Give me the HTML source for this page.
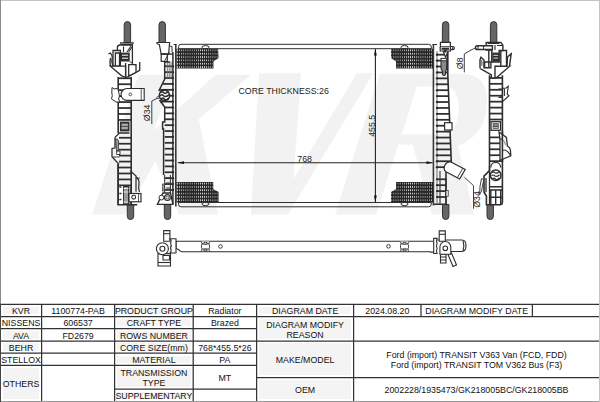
<!DOCTYPE html>
<html><head><meta charset="utf-8">
<style>
html,body{margin:0;padding:0;background:#fff;}
body{width:600px;height:402px;position:relative;overflow:hidden;font-family:"Liberation Sans",sans-serif;}
svg{position:absolute;left:0;top:0;}
.c{position:absolute;font-size:8.8px;color:#111;padding-top:1.6px;box-sizing:border-box;text-align:center;line-height:10px;white-space:nowrap;display:flex;align-items:center;justify-content:center;}
.gb{position:absolute;background:#f4f4f4;}
</style></head><body>
<svg width="600" height="402" viewBox="0 0 600 402">
<defs>
<pattern id="fin" x="176.5" y="48.7" width="2.08" height="3.33" patternUnits="userSpaceOnUse">
<rect width="2.08" height="3.33" fill="#222"/>
<rect x="0.7" y="0.7" width="0.75" height="2.0" rx="0.35" fill="#e6e6e6"/>
</pattern>
</defs>
<g fill="#f2f2f2">
<path d="M138.4 74.8 H175 L121.5 214.5 H92 Z"/>
<path d="M215.7 74.8 H251 L198.7 119 L150 152 L146.4 137.2 Z"/>
<path d="M150 150 L198.7 119 L218 214.5 H179 Z"/>
<path d="M146.4 137.2 L172 133 L158 156 L139.5 190 L125 214.5 H121.5 Z"/>
<path d="M259 73.3 H301 L293.5 179 L356.7 73.3 H373.3 L288 214.5 H251 Z"/>
<path d="M380 73.7 H460 Q488 73.7 487 102 Q486 135 458 146 L474 214.5 H431.8 L412.8 144.5 H398.3 L376 214.5 H335 Z M417 86.4 L401.5 134.6 H440 Q458 132 459 110 Q459 86.4 445 86.4 Z" fill-rule="evenodd"/>
</g>
<rect x="0.5" y="0.5" width="599" height="401" fill="none" stroke="#c4c4c4" stroke-width="1"/>
<line x1="0.5" y1="0" x2="0.5" y2="402" stroke="#8a8a8a" stroke-width="1"/>
<g stroke="#2e2e2e" fill="none" stroke-width="1">
<path d="M178.6 48.7 V46.5 Q178.6 44.3 181 44.3 H428.5 Q431.3 44.3 431.3 47 V48.7"/><ellipse cx="205.5" cy="47.2" rx="3.6" ry="1.6"/><ellipse cx="404.5" cy="47.2" rx="3.6" ry="1.6"/>
<path d="M178.6 202.5 V204.6 Q178.6 206.8 181 206.8 H428.5 Q431.3 206.8 431.3 204.2 V202.5"/><ellipse cx="205.5" cy="204" rx="3.6" ry="1.6"/><ellipse cx="404.5" cy="204" rx="3.6" ry="1.6"/>
<line x1="178" y1="48.7" x2="431.5" y2="48.7"/>
<line x1="178" y1="202.5" x2="431.5" y2="202.5"/>
</g>
<path d="M175.8 44.5 V206.5" fill="none" stroke="#3a3a3a" stroke-width="1.6"/><path d="M173.5 44.5 H176.5" stroke="#2e2e2e" stroke-width="1"/>
<path d="M433.4 44.5 V205.5" fill="none" stroke="#3a3a3a" stroke-width="1.6"/><path d="M432.5 44.5 H437" stroke="#2e2e2e" stroke-width="1"/>
<path d="M176.5 48.7 H218 L218.6 58 L213.5 61.5 V68.6 H176.5 Z" fill="url(#fin)"/>
<path d="M433 48.7 H391 V58 L396 61.5 V68.6 H433 Z" fill="url(#fin)"/>
<path d="M176.5 182 H213.3 V189 L218.6 192 V202.5 H176.5 Z" fill="url(#fin)"/>
<path d="M433 182 H396 V189 L391 192 V202.5 H433 Z" fill="url(#fin)"/>
<g stroke="#222" stroke-width="1.1">
<line x1="178" y1="162.7" x2="432.5" y2="162.7"/>
<line x1="375.4" y1="49" x2="375.4" y2="202"/>
</g>
<g fill="#111">
<path d="M177.5 162.7 L184 161.3 V164.1 Z"/>
<path d="M433 162.7 L426.5 161.3 V164.1 Z"/>
<path d="M375.4 48.8 L374 55.5 H376.8 Z"/>
<path d="M375.4 202.3 L374 195.6 H376.8 Z"/>
</g>
<g font-family="Liberation Sans" font-size="8.8" fill="#222">
<text x="238.5" y="94.3">CORE THICKNESS:26</text>
<text x="297.3" y="161.5">768</text>
<text transform="translate(374.6 136.8) rotate(-90)">455.5</text>
<text transform="translate(150.2 121.2) rotate(-90)" font-size="8.8">Ø34</text>
<text transform="translate(463.2 69.2) rotate(-90)" font-size="8.8">Ø8</text>
<text transform="translate(480 207.8) rotate(-90)" font-size="8.8">Ø34</text>
</g>
<path d="M124.20 42.5 V24.8 A3.2 3.2 0 0 1 130.60 24.8 V42.5 Z" fill="#666" stroke="#333" stroke-width="1"/>
<path d="M159.00 42.5 V24.8 A3.2 3.2 0 0 1 165.40 24.8 V42.5 Z" fill="#666" stroke="#333" stroke-width="1"/>
<path d="M442.40 42.5 V24.8 A3.2 3.2 0 0 1 448.80 24.8 V42.5 Z" fill="#666" stroke="#333" stroke-width="1"/>
<path d="M490.40 42.5 V24.8 A3.2 3.2 0 0 1 496.80 24.8 V42.5 Z" fill="#666" stroke="#333" stroke-width="1"/>
<path d="M127.30 204.5 V216.3 A3.2 3.2 0 0 0 133.70 216.3 V204.5 Z" fill="#666" stroke="#333" stroke-width="1"/>
<path d="M164.30 204.5 V216.3 A3.2 3.2 0 0 0 170.70 216.3 V204.5 Z" fill="#666" stroke="#333" stroke-width="1"/>
<path d="M442.50 204.5 V216.3 A3.2 3.2 0 0 0 448.90 216.3 V204.5 Z" fill="#666" stroke="#333" stroke-width="1"/>
<path d="M487.00 204.5 V216.3 A3.2 3.2 0 0 0 493.40 216.3 V204.5 Z" fill="#666" stroke="#333" stroke-width="1"/>
<g stroke="#2e2e2e" stroke-width="1.6" fill="none">
<path d="M118.2 77 V133 M118.2 164 V204.8 H137.3"/>
<line x1="131.2" y1="77" x2="131.2" y2="204.8"/>
</g>
<rect x="118.20" y="77.40" width="13.00" height="1.75" fill="#2e2e2e"/>
<rect x="118.20" y="83.35" width="13.00" height="1.75" fill="#2e2e2e"/>
<rect x="118.20" y="89.30" width="13.00" height="1.75" fill="#2e2e2e"/>
<rect x="118.20" y="95.25" width="13.00" height="1.75" fill="#2e2e2e"/>
<rect x="118.20" y="101.20" width="13.00" height="1.75" fill="#2e2e2e"/>
<rect x="118.20" y="107.15" width="13.00" height="1.75" fill="#2e2e2e"/>
<rect x="118.20" y="113.10" width="13.00" height="1.75" fill="#2e2e2e"/>
<rect x="118.20" y="119.05" width="13.00" height="1.75" fill="#2e2e2e"/>
<rect x="118.20" y="136.90" width="13.00" height="1.75" fill="#2e2e2e"/>
<rect x="118.20" y="142.85" width="13.00" height="1.75" fill="#2e2e2e"/>
<rect x="118.20" y="148.80" width="13.00" height="1.75" fill="#2e2e2e"/>
<rect x="118.20" y="154.75" width="13.00" height="1.75" fill="#2e2e2e"/>
<rect x="118.20" y="160.70" width="13.00" height="1.75" fill="#2e2e2e"/>
<rect x="118.20" y="166.65" width="13.00" height="1.75" fill="#2e2e2e"/>
<rect x="118.20" y="172.60" width="13.00" height="1.75" fill="#2e2e2e"/>
<rect x="118.20" y="178.55" width="13.00" height="1.75" fill="#2e2e2e"/>
<rect x="118.20" y="184.50" width="13.00" height="1.75" fill="#2e2e2e"/>
<rect x="118.20" y="190.45" width="13.00" height="1.75" fill="#2e2e2e"/>
<rect x="118.20" y="196.40" width="13.00" height="1.75" fill="#2e2e2e"/>
<rect x="119.9" y="121.6" width="9.6" height="9.8" fill="#2e2e2e"/>
<rect x="121.2" y="122.9" width="7" height="7.2" fill="#555"/><rect x="121.6" y="124.3" width="6.2" height="1.2" fill="#e0e0e0"/><rect x="121.6" y="127.4" width="6.2" height="1.2" fill="#e0e0e0"/>
<g stroke="#2e2e2e" stroke-width="1.3" fill="#fff">
<path d="M117.4 62 V47.5 Q117.4 45 120 45 H132.4 V63"/>
<path d="M113 50.5 H120.4 V66.2 H113 Z"/>
<path d="M115.4 53 H119.5 V66.2 H115.4 Z"/>
<path d="M110.4 66.2 H125.6 V77.5 L121.4 75.6 Z"/>
<path d="M125.6 63 V77.6 M139.7 62 V70.4 L128.2 76.6 L125.6 77.6"/>
<path d="M128.7 64.6 H136 V72.4 L128.7 76 Z"/>
<path d="M108.4 54 L110.5 53 Q112.5 56 112.3 58 Q111.2 61 113 66.2"/>
<path d="M110.4 66.2 Q109.5 62 110.5 58"/>
</g>
<path d="M119.8 42.3 H134 L132.9 45 H120.9 Z" fill="#2e2e2e"/><path d="M121 43.5 H132.5" stroke="#bbb" stroke-width="0.6"/>
<rect x="120.4" y="52.6" width="9.3" height="8.9" fill="#2e2e2e"/><rect x="122" y="54.6" width="6.1" height="1.3" fill="#d0d0d0"/><rect x="122" y="57.6" width="6.1" height="1.3" fill="#d0d0d0"/>
<path d="M123.5 46.5 V52 M127 52 L131 46 M128.7 52 L132 47" stroke="#2e2e2e" stroke-width="1.1"/>
<path d="M129.7 61.5 L134.4 65.1" stroke="#2e2e2e" stroke-width="1"/>
<path d="M127 88.5 H144.2 V100.4 H127 A5.95 5.95 0 0 1 127 88.5 Z" fill="#fff" stroke="#2e2e2e" stroke-width="1.1"/>
<line x1="141.2" y1="88.5" x2="141.2" y2="100.4" stroke="#2e2e2e" stroke-width="0.8"/>
<circle cx="130.3" cy="94.4" r="1.4" fill="none" stroke="#2e2e2e" stroke-width="0.8"/>
<path d="M112 87.5 L114 89 Q116 88 118 89 L119.5 96 Q117.5 99 120 102 L116 102 L111.5 99 Q113 95 111.8 93 Z" fill="#fff" stroke="#2e2e2e" stroke-width="1"/>
<rect x="116" y="134" width="3" height="30" fill="#fff"/>
<path d="M129.4 133 H119.4 L115 137.4 V147.8 L112 148.6 V156.8 L119 164.3" fill="none" stroke="#2e2e2e" stroke-width="1.3"/>
<path d="M115.5 139 Q117.8 138 118.5 141 V150.8 H116.5 Z" fill="#9a9a9a" stroke="#2e2e2e" stroke-width="0.8"/>
<path d="M116.6 151 H120 V154.5 H116.6 Z M113 157 H119.5" fill="none" stroke="#2e2e2e" stroke-width="0.9"/>
<path d="M118.2 164 V205" stroke="#2e2e2e" stroke-width="1.6"/>
<rect x="119" y="186" width="11.5" height="18" fill="#fff"/>
<path d="M130.2 170.8 L136 176 V191.7 M136.5 177 Q139.5 180 139 184 Q138 188 139.5 192" stroke="#2e2e2e" stroke-width="1.2" fill="none"/>
<path d="M137.5 178.5 L139.8 178" stroke="#2e2e2e" stroke-width="1"/>
<rect x="123.5" y="186.5" width="5" height="17.5" fill="#9a9a9a" stroke="#2e2e2e" stroke-width="1"/>
<path d="M123.5 188.5 H128.5 M123.5 192 H128.5 M123.5 202 H128.5" stroke="#eee" stroke-width="0.9"/>
<path d="M119.3 187 H121.5 M119.3 193.5 H121.5 M119.3 199.5 H121.5" stroke="#2e2e2e" stroke-width="1.6"/>
<path d="M130.2 186 V204" stroke="#2e2e2e" stroke-width="1.2"/>
<rect x="129" y="193.5" width="12" height="8.3" fill="#fff" stroke="#2e2e2e" stroke-width="1.2"/>
<circle cx="133.7" cy="197.2" r="1.9" fill="none" stroke="#2e2e2e" stroke-width="1.1"/>
<path d="M138.5 194 V201.5" stroke="#2e2e2e" stroke-width="0.8"/>
<g stroke="#2e2e2e" stroke-width="1.5" fill="none">
<path d="M164.7 61.4 V79 L158.8 91 M159.5 100 L164.7 107 V122 H162.6 V129 H163.6 V175"/>
<line x1="172.9" y1="52" x2="172.9" y2="204"/>
</g>
<rect x="164.70" y="65.38" width="8.20" height="1.75" fill="#2e2e2e"/>
<circle cx="172.9" cy="66.25" r="1.2" fill="#2e2e2e"/>
<rect x="164.70" y="71.27" width="8.20" height="1.75" fill="#2e2e2e"/>
<circle cx="172.9" cy="72.14" r="1.2" fill="#2e2e2e"/>
<rect x="164.70" y="77.16" width="8.20" height="1.75" fill="#2e2e2e"/>
<circle cx="172.9" cy="78.03" r="1.2" fill="#2e2e2e"/>
<rect x="162.71" y="83.05" width="10.19" height="1.75" fill="#2e2e2e"/>
<circle cx="172.9" cy="83.92" r="1.2" fill="#2e2e2e"/>
<rect x="159.81" y="88.94" width="13.09" height="1.75" fill="#2e2e2e"/>
<circle cx="172.9" cy="89.81" r="1.2" fill="#2e2e2e"/>
<rect x="158.80" y="94.83" width="14.10" height="1.75" fill="#2e2e2e"/>
<circle cx="172.9" cy="95.70" r="1.2" fill="#2e2e2e"/>
<rect x="160.03" y="100.72" width="12.87" height="1.75" fill="#2e2e2e"/>
<circle cx="172.9" cy="101.59" r="1.2" fill="#2e2e2e"/>
<rect x="164.41" y="106.61" width="8.49" height="1.75" fill="#2e2e2e"/>
<circle cx="172.9" cy="107.48" r="1.2" fill="#2e2e2e"/>
<rect x="164.70" y="112.50" width="8.20" height="1.75" fill="#2e2e2e"/>
<circle cx="172.9" cy="113.37" r="1.2" fill="#2e2e2e"/>
<rect x="164.70" y="118.39" width="8.20" height="1.75" fill="#2e2e2e"/>
<circle cx="172.9" cy="119.26" r="1.2" fill="#2e2e2e"/>
<rect x="164.70" y="124.28" width="8.20" height="1.75" fill="#2e2e2e"/>
<circle cx="172.9" cy="125.15" r="1.2" fill="#2e2e2e"/>
<rect x="164.70" y="130.17" width="8.20" height="1.75" fill="#2e2e2e"/>
<circle cx="172.9" cy="131.04" r="1.2" fill="#2e2e2e"/>
<rect x="164.70" y="136.06" width="8.20" height="1.75" fill="#2e2e2e"/>
<circle cx="172.9" cy="136.93" r="1.2" fill="#2e2e2e"/>
<rect x="164.70" y="141.95" width="8.20" height="1.75" fill="#2e2e2e"/>
<circle cx="172.9" cy="142.82" r="1.2" fill="#2e2e2e"/>
<rect x="164.70" y="147.84" width="8.20" height="1.75" fill="#2e2e2e"/>
<circle cx="172.9" cy="148.71" r="1.2" fill="#2e2e2e"/>
<rect x="164.70" y="153.73" width="8.20" height="1.75" fill="#2e2e2e"/>
<circle cx="172.9" cy="154.60" r="1.2" fill="#2e2e2e"/>
<rect x="164.70" y="159.62" width="8.20" height="1.75" fill="#2e2e2e"/>
<circle cx="172.9" cy="160.49" r="1.2" fill="#2e2e2e"/>
<rect x="164.70" y="165.51" width="8.20" height="1.75" fill="#2e2e2e"/>
<circle cx="172.9" cy="166.38" r="1.2" fill="#2e2e2e"/>
<rect x="164.70" y="171.40" width="8.20" height="1.75" fill="#2e2e2e"/>
<circle cx="172.9" cy="172.27" r="1.2" fill="#2e2e2e"/>
<rect x="164.70" y="177.29" width="8.20" height="1.75" fill="#2e2e2e"/>
<circle cx="172.9" cy="178.16" r="1.2" fill="#2e2e2e"/>
<rect x="164.70" y="183.18" width="8.20" height="1.75" fill="#2e2e2e"/>
<circle cx="172.9" cy="184.05" r="1.2" fill="#2e2e2e"/>
<rect x="164.70" y="189.07" width="8.20" height="1.75" fill="#2e2e2e"/>
<circle cx="172.9" cy="189.94" r="1.2" fill="#2e2e2e"/>
<path d="M167.3 61.4 V78 M169.2 61.4 V78 M171 61.4 V78" stroke="#666" stroke-width="0.9"/>
<circle cx="164.5" cy="95.4" r="5.2" fill="#fff" stroke="#2e2e2e" stroke-width="1.5"/>
<path d="M160.3 92.8 Q161.8 90.6 163.6 92.6 Q165.3 94.6 168.3 91.5 M160.3 96 Q161.8 93.8 163.6 95.8 Q165.3 97.8 169 94.6 M161 99.2 Q162.6 97 164.4 99 Q166.2 101 168.8 98" stroke="#2e2e2e" stroke-width="1.5" fill="none"/>
<path d="M159.5 92 L161.5 90.5 M166 90.5 L168.5 92 M160.5 99.5 L162 100.8 M167 100.5 L169 99" stroke="#2e2e2e" stroke-width="0.8" fill="none"/>
<path d="M157.8 98 L151.8 101 V124" stroke="#2e2e2e" stroke-width="0.9" fill="none"/>
<circle cx="158" cy="97.6" r="1.1" fill="#fff" stroke="#2e2e2e" stroke-width="0.8"/>
<g stroke="#2e2e2e" stroke-width="1.2" fill="#fff">
<path d="M157 42.5 H169.6 L168.6 54.1 H161.2 L159.4 44.8 L157 43.5 Z"/>
<path d="M161.2 54.1 H167.3 V61.3 H161.2 Z"/>
</g>
<path d="M161 54.1 H172.9" stroke="#2e2e2e" stroke-width="1.4"/>
<path d="M169.2 52.2 Q167 57.5 164.7 60.6 M169.6 46 L172 46.5 V52" stroke="#2e2e2e" stroke-width="1" fill="none"/>
<rect x="164.7" y="61.2" width="5" height="1.5" fill="#2e2e2e"/>
<path d="M164.7 175 V193 M170.4 175 V193" stroke="#2e2e2e" stroke-width="1"/>
<rect x="162.4" y="184" width="2.2" height="7" fill="#999" stroke="#2e2e2e" stroke-width="0.6"/>
<path d="M157.4 204.4 L162.9 193 H170.5 L172.9 204.4 Z" fill="#fff" stroke="#2e2e2e" stroke-width="1.3"/>
<circle cx="161.4" cy="197.6" r="2.4" fill="#fff" stroke="#2e2e2e" stroke-width="1"/>
<circle cx="167.4" cy="197.6" r="2.9" fill="#fff" stroke="#2e2e2e" stroke-width="1.2"/>
<circle cx="167.4" cy="197.6" r="1.4" fill="none" stroke="#2e2e2e" stroke-width="0.8"/>
<path d="M166 178 H170 M166 183 H170 M166 188 H170" stroke="#2e2e2e" stroke-width="1.2"/>
<g stroke="#2e2e2e" stroke-width="1.6" fill="none">
<path d="M447.8 51 V75 L451.6 170"/>
<path d="M446 172 V204.3 H434"/>
<path d="M437 51 V204" stroke-width="0.7"/>
</g>
<rect x="437" y="53.80" width="10.80" height="1.75" fill="#2e2e2e"/>
<circle cx="437" cy="54.67" r="1.2" fill="#2e2e2e"/>
<rect x="437" y="59.72" width="10.80" height="1.75" fill="#2e2e2e"/>
<circle cx="437" cy="60.59" r="1.2" fill="#2e2e2e"/>
<rect x="437" y="65.64" width="10.80" height="1.75" fill="#2e2e2e"/>
<circle cx="437" cy="66.51" r="1.2" fill="#2e2e2e"/>
<rect x="437" y="71.56" width="10.80" height="1.75" fill="#2e2e2e"/>
<circle cx="437" cy="72.43" r="1.2" fill="#2e2e2e"/>
<rect x="437" y="77.48" width="10.90" height="1.75" fill="#2e2e2e"/>
<circle cx="437" cy="78.35" r="1.2" fill="#2e2e2e"/>
<rect x="437" y="83.40" width="11.14" height="1.75" fill="#2e2e2e"/>
<circle cx="437" cy="84.27" r="1.2" fill="#2e2e2e"/>
<rect x="437" y="89.32" width="11.37" height="1.75" fill="#2e2e2e"/>
<circle cx="437" cy="90.19" r="1.2" fill="#2e2e2e"/>
<rect x="437" y="95.24" width="11.61" height="1.75" fill="#2e2e2e"/>
<circle cx="437" cy="96.11" r="1.2" fill="#2e2e2e"/>
<rect x="437" y="101.16" width="11.85" height="1.75" fill="#2e2e2e"/>
<circle cx="437" cy="102.03" r="1.2" fill="#2e2e2e"/>
<rect x="437" y="107.08" width="12.08" height="1.75" fill="#2e2e2e"/>
<circle cx="437" cy="107.95" r="1.2" fill="#2e2e2e"/>
<rect x="437" y="113.00" width="12.32" height="1.75" fill="#2e2e2e"/>
<circle cx="437" cy="113.87" r="1.2" fill="#2e2e2e"/>
<rect x="437" y="118.92" width="12.56" height="1.75" fill="#2e2e2e"/>
<circle cx="437" cy="119.79" r="1.2" fill="#2e2e2e"/>
<rect x="437" y="124.84" width="12.79" height="1.75" fill="#2e2e2e"/>
<circle cx="437" cy="125.71" r="1.2" fill="#2e2e2e"/>
<rect x="437" y="130.76" width="13.03" height="1.75" fill="#2e2e2e"/>
<circle cx="437" cy="131.63" r="1.2" fill="#2e2e2e"/>
<rect x="437" y="136.68" width="13.27" height="1.75" fill="#2e2e2e"/>
<circle cx="437" cy="137.55" r="1.2" fill="#2e2e2e"/>
<rect x="437" y="142.60" width="13.50" height="1.75" fill="#2e2e2e"/>
<circle cx="437" cy="143.47" r="1.2" fill="#2e2e2e"/>
<rect x="437" y="148.52" width="13.74" height="1.75" fill="#2e2e2e"/>
<circle cx="437" cy="149.39" r="1.2" fill="#2e2e2e"/>
<rect x="437" y="154.44" width="13.98" height="1.75" fill="#2e2e2e"/>
<circle cx="437" cy="155.31" r="1.2" fill="#2e2e2e"/>
<rect x="437" y="160.36" width="14.21" height="1.75" fill="#2e2e2e"/>
<circle cx="437" cy="161.23" r="1.2" fill="#2e2e2e"/>
<rect x="437" y="166.28" width="14.45" height="1.75" fill="#2e2e2e"/>
<circle cx="437" cy="167.15" r="1.2" fill="#2e2e2e"/>
<path d="M440 171 V204 M446 178 V204" stroke="#2e2e2e" stroke-width="1.1"/>
<rect x="437.00" y="178.40" width="9.00" height="1.75" fill="#2e2e2e"/>
<circle cx="437.00" cy="179.28" r="1.1" fill="#2e2e2e"/>
<rect x="437.00" y="184.32" width="9.00" height="1.75" fill="#2e2e2e"/>
<circle cx="437.00" cy="185.19" r="1.1" fill="#2e2e2e"/>
<rect x="437.00" y="190.24" width="9.00" height="1.75" fill="#2e2e2e"/>
<circle cx="437.00" cy="191.11" r="1.1" fill="#2e2e2e"/>
<rect x="437.00" y="196.16" width="9.00" height="1.75" fill="#2e2e2e"/>
<circle cx="437.00" cy="197.03" r="1.1" fill="#2e2e2e"/>
<rect x="446" y="190.4" width="2.2" height="5.9" fill="#fff" stroke="#2e2e2e" stroke-width="0.8"/>
<rect x="444.6" y="122.7" width="7.4" height="7.3" fill="#fff" stroke="#2e2e2e" stroke-width="1.2"/>
<g stroke="#2e2e2e" stroke-width="1.2" fill="#fff">
<path d="M440.4 42.4 H450.4 V46.9 H440.4 Z"/>
<path d="M450.4 46.5 H452.8 A1.6 1.6 0 0 1 452.8 49.7 H450.4"/>
<path d="M440.2 47 V51 H450.4 V47"/>
<path d="M443 51 L445.7 57.5 L448 51"/>
</g>
<rect x="441.5" y="47.6" width="7.5" height="2.2" fill="#2e2e2e"/><rect x="444" y="49.5" width="2.6" height="3" fill="#2e2e2e"/>
<circle cx="452.6" cy="48.1" r="0.9" fill="#2e2e2e"/>
<path d="M441 60.5 H446.7 V68 Q446.7 70 445.5 71 V74.5 Q444 76.5 442.5 74.5 V71 Q441 70 441 68 Z" fill="#8a8a8a" stroke="#2e2e2e" stroke-width="1.1"/>
<rect x="441" y="58.4" width="5.7" height="2.4" fill="#fff" stroke="#2e2e2e" stroke-width="1"/>
<path d="M450.5 161.8 L465.2 169.5 L459.6 179 L446 171.8 Q443 169.5 444.8 165.2 Q446.8 161.5 450.5 161.8 Z" fill="#fff" stroke="#2e2e2e" stroke-width="1.2"/>
<path d="M462.8 168.3 L457.3 177.8" stroke="#2e2e2e" stroke-width="0.9"/>
<path d="M464.5 177.4 L473.5 185.6 V208.7" stroke="#2e2e2e" stroke-width="0.9" fill="none"/>
<path d="M464.3 72.4 V54 L470.5 50.3" stroke="#2e2e2e" stroke-width="0.9" fill="none"/>
<g stroke="#2e2e2e" stroke-width="1.6" fill="none">
<path d="M489.5 75.3 V170.6 L484 176.1 V192.3 L486.4 196 V204.7 H500 Q502.4 204.7 502.4 202 V75.3"/>
</g>
<rect x="489.50" y="77.00" width="12.90" height="1.75" fill="#2e2e2e"/>
<rect x="489.50" y="82.95" width="12.90" height="1.75" fill="#2e2e2e"/>
<rect x="489.50" y="88.90" width="12.90" height="1.75" fill="#2e2e2e"/>
<rect x="489.50" y="94.85" width="12.90" height="1.75" fill="#2e2e2e"/>
<rect x="489.50" y="100.80" width="12.90" height="1.75" fill="#2e2e2e"/>
<rect x="489.50" y="106.75" width="12.90" height="1.75" fill="#2e2e2e"/>
<rect x="489.50" y="112.70" width="12.90" height="1.75" fill="#2e2e2e"/>
<rect x="489.50" y="118.65" width="12.90" height="1.75" fill="#2e2e2e"/>
<rect x="489.50" y="136.50" width="12.90" height="1.75" fill="#2e2e2e"/>
<rect x="489.50" y="142.45" width="12.90" height="1.75" fill="#2e2e2e"/>
<rect x="489.50" y="148.40" width="12.90" height="1.75" fill="#2e2e2e"/>
<rect x="489.50" y="154.35" width="12.90" height="1.75" fill="#2e2e2e"/>
<rect x="489.50" y="160.30" width="12.90" height="1.75" fill="#2e2e2e"/>
<rect x="491" y="121.7" width="9.5" height="8.6" fill="#fff" stroke="#2e2e2e" stroke-width="1.3"/>
<rect x="492.7" y="123.3" width="6" height="5.4" fill="#2e2e2e"/><rect x="493.3" y="124.5" width="4.8" height="1" fill="#ddd"/><rect x="493.3" y="126.8" width="4.8" height="1" fill="#ddd"/>
<path d="M489.5 166 V204.7 M486 178 V192.3" stroke="#2e2e2e" stroke-width="1.3"/>
<path d="M489.5 186.7 H502.4 M489.5 190 H502.4 M489.5 197.3 H502.4 M490.8 190 V204.7 M495.7 190 V204.7 M500.7 190 V204.7" stroke="#2e2e2e" stroke-width="1.4"/>
<path d="M490.8 167.5 Q491 162.5 495.7 162.5 Q500.5 162.5 500.7 167.5" fill="#fff" stroke="#2e2e2e" stroke-width="1.2"/>
<circle cx="495.7" cy="175.3" r="5.3" fill="#fff" stroke="#2e2e2e" stroke-width="1.5"/>
<path d="M491.8 172.6 Q493.3 171 494.8 172.6 Q496.3 174.2 499.4 171.5 M491.8 175.8 Q493.3 174.2 494.8 175.8 Q496.3 177.4 499.6 174.7 M492.3 179 Q493.8 177.4 495.3 179 Q496.8 180.6 499.3 178" stroke="#2e2e2e" stroke-width="1.2" fill="none"/>
<path d="M481.5 178.6 L483.8 179.5 L481.5 191 L479.6 194.8 Q479.5 186 481.5 178.6 Z" fill="#fff" stroke="#2e2e2e" stroke-width="0.9"/>
<path d="M502.4 88.4 L506.2 88 L508.3 86.3 L507.2 94.3 L509 95.7 L502.4 101.6 M504.4 89 V96" fill="none" stroke="#2e2e2e" stroke-width="1.1"/><path d="M498.5 89.3 H502.4 M498.5 97.2 H502.4" stroke="#2e2e2e" stroke-width="1.6"/>
<path d="M499 132 L506.4 137.4 L507.4 146 Q510 147.5 510.4 150 L510.8 155.8 L500 160.3 V139 Z" fill="#fff" stroke="#2e2e2e" stroke-width="1.3"/><path d="M502.4 150.8 Q506 148 510.8 155.8 M499 139 H502.4" fill="none" stroke="#2e2e2e" stroke-width="1.1"/><path d="M503.5 140 L505.8 145" stroke="#999" stroke-width="1.2"/><path d="M502.4 131 V162" stroke="#2e2e2e" stroke-width="1.6"/>
<g stroke="#2e2e2e" stroke-width="1.4" fill="#fff">
<path d="M480 68.3 L491.4 75 V78 H496.1 L509.7 66.2 H495 V78"/>
<path d="M480 68.3 V60 L481 57.3 L484 60 V68.3"/>
<path d="M484.6 62 H490.9 V67.8 H484.6 Z"/>
<path d="M500.8 50.5 H506.5 V66.2 H500.8 Z"/>
<path d="M507 66.2 L507.5 57 L511.2 53.7 L509.5 66.2"/>
<path d="M488.8 50 V68 M491.9 50 V62"/>
<path d="M486.2 42.4 H500.8 L502.9 45.3 V50.5 H499.2 V62 H491.9 V50 H486.2 Z"/>
<path d="M477.3 45.8 H492.4 V49.5 H477.3 A1.85 1.85 0 0 1 477.3 45.8 Z"/>
</g>
<path d="M478 46 V49.3 M483.6 46 V49.3" stroke="#2e2e2e" stroke-width="1"/>
<rect x="492.4" y="52.6" width="6.8" height="8.9" fill="#2e2e2e"/><rect x="493.5" y="54.8" width="4.6" height="1.1" fill="#ccc"/><rect x="493.5" y="57.6" width="4.6" height="1.1" fill="#ccc"/>
<path d="M487.5 43.5 H499.5 M495 45 V50 M497 45.5 H502" stroke="#2e2e2e" stroke-width="1.1"/>
<path d="M475.7 47.9 L470 50.5" stroke="#2e2e2e" stroke-width="0.9"/>
<path d="M481.5 60 Q482.5 63 481.8 66" stroke="#777" stroke-width="1.2"/>
<g stroke="#2e2e2e" stroke-width="1.1" fill="#fff">
<path d="M176 241.3 H433.7 M181 251.7 H429.6 L430.5 252.1 H433.7 M176 241.3 V248.5 L178.5 249.5 L181 251.7"/>
<path d="M437.1 240 H462 Q466 240 466 245.8 Q466 251.5 462 251.5 H450.8"/>
<path d="M463 240.5 Q464.7 245.8 463 251"/>
<path d="M163.7 230.6 H169.9 V241.2 H163.7 Z"/><path d="M163.7 233.7 H169.9"/>
<path d="M158 253.6 H170.5 V266 H158 Z"/><path d="M163 255.5 H169.5 V260 H163 Z"/><path d="M158 262.5 H170.5"/>
<path d="M170 238.7 H176 V253 H170 Q172 251 170.5 248 Q172 245.5 170.5 243 Q172 241 170 238.7 Z"/>
<circle cx="162.4" cy="248.7" r="6"/>
<circle cx="162.4" cy="248.7" r="2.5"/>
<path d="M439.2 230.9 H445.3 V241.2 H439.2 Z"/><path d="M439.2 234.3 H445.3"/>
<path d="M440.5 254.2 H446 V263 H440.5 Z"/><path d="M440.5 257 H446 M440.5 260 H446"/>
<path d="M448 254.5 L451.5 253 L456.5 265 L453 266.5 Z"/>
<path d="M433.7 238.4 H437.1 Q435.8 241 437.1 243.5 Q435.8 246 437.1 248.5 Q435.8 251 437.1 253.5 H433.7 Z"/>
<path d="M439.9 254.2 V247 A5.45 5.45 0 0 1 450.8 247 V254.2 Z"/>
<circle cx="445.3" cy="248.3" r="2.3"/>
</g>
<g stroke="#2e2e2e" stroke-width="0.9" fill="#fff"><path d="M201.0 241.5 Q202.5 243.5 202.0 244 H209.0 Q208.5 243.5 210.0 241.5"/><rect x="201.5" y="244" width="8" height="5" rx="1.2"/><path d="M201.0 251.7 Q202.5 249.7 202.0 249 M210.0 251.7 Q208.5 249.7 209.0 249"/><ellipse cx="205.5" cy="243.2" rx="2" ry="0.9"/><ellipse cx="205.5" cy="250" rx="2" ry="0.9"/></g>
<g stroke="#2e2e2e" stroke-width="0.9" fill="#fff"><path d="M400.0 241.5 Q401.5 243.5 401.0 244 H408.0 Q407.5 243.5 409.0 241.5"/><rect x="400.5" y="244" width="8" height="5" rx="1.2"/><path d="M400.0 251.7 Q401.5 249.7 401.0 249 M409.0 251.7 Q407.5 249.7 408.0 249"/><ellipse cx="404.5" cy="243.2" rx="2" ry="0.9"/><ellipse cx="404.5" cy="250" rx="2" ry="0.9"/></g>
<circle cx="220.5" cy="246.5" r="1.8" fill="none" stroke="#2e2e2e" stroke-width="0.9"/>
<circle cx="388.5" cy="246.3" r="1.8" fill="none" stroke="#2e2e2e" stroke-width="0.9"/>
<g stroke="#333" stroke-width="1.25">
<line x1="0" y1="304.4" x2="600" y2="304.4"/>
<line x1="0" y1="316.5" x2="600" y2="316.5"/>
<line x1="0" y1="328.6" x2="256.6" y2="328.6"/>
<line x1="0" y1="341" x2="600" y2="341"/>
<line x1="0" y1="353.2" x2="256.6" y2="353.2"/>
<line x1="0" y1="365.3" x2="256.6" y2="365.3"/>
<line x1="114.6" y1="389.2" x2="256.6" y2="389.2"/>
<line x1="256.6" y1="377.6" x2="600" y2="377.6"/>
<line x1="41.6" y1="304.4" x2="41.6" y2="402"/>
<line x1="114.6" y1="304.4" x2="114.6" y2="402"/>
<line x1="193.2" y1="304.4" x2="193.2" y2="402"/>
<line x1="256.6" y1="304.4" x2="256.6" y2="402"/>
<line x1="353.6" y1="304.4" x2="353.6" y2="402"/>
<line x1="421" y1="304.4" x2="421" y2="316.5"/>
<line x1="532.4" y1="304.4" x2="532.4" y2="316.5"/>
</g>
<line x1="0" y1="401.5" x2="600" y2="401.5" stroke="#999" stroke-width="1"/>
<line x1="599.5" y1="0" x2="599.5" y2="402" stroke="#c4c4c4" stroke-width="1"/>
<line x1="0.5" y1="304" x2="0.5" y2="402" stroke="#444" stroke-width="1"/>
</svg>
<!-- TABLE text -->
<div class="gb" style="left:2.8px;top:306.7px;width:36.5px;height:7.5px;"></div>
<div class="c" style="left:1.5px;top:305.4px;width:39.1px;height:10.1px;">KVR</div>
<div class="c" style="left:42.6px;top:305.4px;width:71.0px;height:10.1px;">1100774-PAB</div>
<div class="gb" style="left:116.9px;top:306.7px;width:74.0px;height:7.5px;"></div>
<div class="c" style="left:115.6px;top:305.4px;width:76.6px;height:10.1px;">PRODUCT GROUP</div>
<div class="c" style="left:194.2px;top:305.4px;width:61.4px;height:10.1px;">Radiator</div>
<div class="gb" style="left:258.9px;top:306.7px;width:92.4px;height:7.5px;"></div>
<div class="c" style="left:257.6px;top:305.4px;width:95.0px;height:10.1px;">DIAGRAM DATE</div>
<div class="c" style="left:354.6px;top:305.4px;width:65.4px;height:10.1px;">2024.08.20</div>
<div class="c" style="left:422.0px;top:305.4px;width:109.4px;height:10.1px;">DIAGRAM MODIFY DATE</div>
<div class="c" style="left:1.5px;top:317.5px;width:39.1px;height:10.1px;">NISSENS</div>
<div class="c" style="left:42.6px;top:317.5px;width:71.0px;height:10.1px;">606537</div>
<div class="gb" style="left:116.9px;top:318.8px;width:74.0px;height:7.5px;"></div>
<div class="c" style="left:115.6px;top:317.5px;width:76.6px;height:10.1px;">CRAFT TYPE</div>
<div class="c" style="left:194.2px;top:317.5px;width:61.4px;height:10.1px;">Brazed</div>
<div class="gb" style="left:258.9px;top:318.8px;width:92.4px;height:19.9px;"></div>
<div class="c" style="left:257.6px;top:317.5px;width:95.0px;height:22.5px;">DIAGRAM MODIFY<br>REASON</div>
<div class="gb" style="left:2.8px;top:330.9px;width:36.5px;height:7.8px;"></div>
<div class="c" style="left:1.5px;top:329.6px;width:39.1px;height:10.4px;">AVA</div>
<div class="c" style="left:42.6px;top:329.6px;width:71.0px;height:10.4px;">FD2679</div>
<div class="gb" style="left:116.9px;top:330.9px;width:74.0px;height:7.8px;"></div>
<div class="c" style="left:115.6px;top:329.6px;width:76.6px;height:10.4px;">ROWS NUMBER</div>
<div class="gb" style="left:2.8px;top:343.3px;width:36.5px;height:7.6px;"></div>
<div class="c" style="left:1.5px;top:342.0px;width:39.1px;height:10.2px;">BEHR</div>
<div class="gb" style="left:116.9px;top:343.3px;width:74.0px;height:7.6px;"></div>
<div class="c" style="left:115.6px;top:342.0px;width:76.6px;height:10.2px;">CORE SIZE(mm)</div>
<div class="c" style="left:194.2px;top:342.0px;width:61.4px;height:10.2px;">768*455.5*26</div>
<div class="c" style="left:1.5px;top:354.2px;width:39.1px;height:10.1px;">STELLOX</div>
<div class="gb" style="left:116.9px;top:355.5px;width:74.0px;height:7.5px;"></div>
<div class="c" style="left:115.6px;top:354.2px;width:76.6px;height:10.1px;">MATERIAL</div>
<div class="c" style="left:194.2px;top:354.2px;width:61.4px;height:10.1px;">PA</div>
<div class="gb" style="left:2.8px;top:367.6px;width:36.5px;height:31.6px;"></div>
<div class="c" style="left:1.5px;top:366.3px;width:39.1px;height:34.2px;">OTHERS</div>
<div class="gb" style="left:116.9px;top:367.6px;width:74.0px;height:19.3px;"></div>
<div class="c" style="left:115.6px;top:366.3px;width:76.6px;height:21.9px;">TRANSMISSION<br>TYPE</div>
<div class="c" style="left:194.2px;top:366.3px;width:61.4px;height:21.9px;">MT</div>
<div class="gb" style="left:116.9px;top:391.5px;width:74.0px;height:7.7px;"></div>
<div class="c" style="left:115.6px;top:390.2px;width:76.6px;height:10.3px;">SUPPLEMENTARY</div>
<div class="gb" style="left:258.9px;top:343.3px;width:92.4px;height:32.0px;"></div>
<div class="c" style="left:257.6px;top:342.0px;width:95.0px;height:34.6px;">MAKE/MODEL</div>
<div class="c" style="left:354.6px;top:342.0px;width:243.9px;height:34.6px;">Ford (import) TRANSIT V363 Van (FCD, FDD)<br>Ford (import) TRANSIT TOM V362 Bus (F3)</div>
<div class="gb" style="left:258.9px;top:379.9px;width:92.4px;height:19.3px;"></div>
<div class="c" style="left:257.6px;top:378.6px;width:95.0px;height:21.9px;">OEM</div>
<div class="c" style="left:354.6px;top:378.6px;width:243.9px;height:21.9px;">2002228/1935473/GK218005BC/GK218005BB</div>

</body></html>
